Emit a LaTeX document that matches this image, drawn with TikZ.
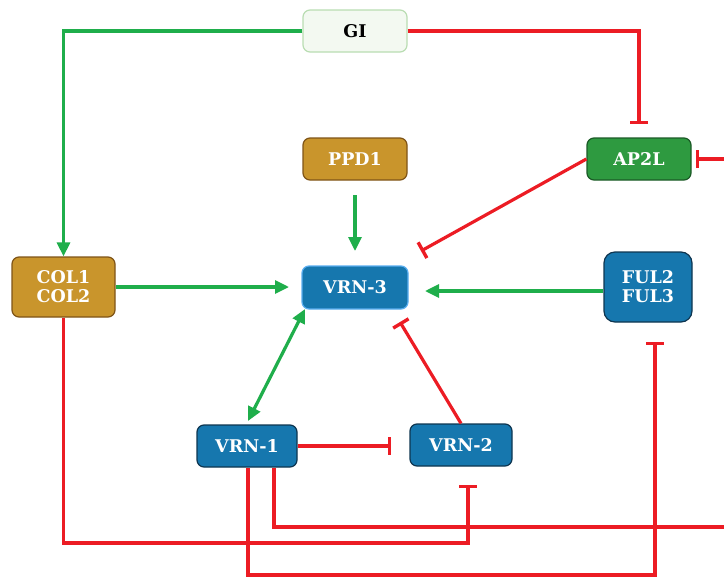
\documentclass[tikz,border=0pt]{standalone}
\usepackage{fontspec}
\setmainfont{DejaVu Serif}
\usetikzlibrary{arrows.meta}

\definecolor{actgreen}{HTML}{1FAE4B}
\definecolor{inhred}{HTML}{EC1C24}
\definecolor{goldfill}{HTML}{C9952C}
\definecolor{golddraw}{HTML}{7F5417}
\definecolor{bluefill}{HTML}{1677AE}
\definecolor{bluedraw}{HTML}{0E3550}
\definecolor{greenfill}{HTML}{2E9A40}
\definecolor{greendraw}{HTML}{1B5A26}
\definecolor{gifill}{HTML}{F3F9F1}
\definecolor{gidraw}{HTML}{B9DDB2}
\definecolor{selblue}{HTML}{5AAEF0}

\tikzset{
  genebox/.style={rounded corners=7pt, minimum width=104pt, minimum height=42pt,
    line width=1.2pt, align=center, text=white, inner sep=2pt,
    font=\bfseries\fontsize{17.5}{19}\selectfont},
  goldbox/.style={genebox, fill=goldfill, draw=golddraw},
  bluebox/.style={genebox, fill=bluefill, draw=bluedraw},
  greenbox/.style={genebox, fill=greenfill, draw=greendraw},
  act/.style={actgreen, line width=3.2pt, -{Triangle[length=14pt,width=13pt]}},
  actboth/.style={actgreen, line width=3.2pt, {Triangle[length=14pt,width=13pt]}-{Triangle[length=14pt,width=13pt]}},
  inh/.style={inhred, line width=3.2pt, -{Bar[width=18pt,line width=3.4pt]}},
  wire/.style={inhred, line width=3.2pt}
}

\begin{document}
\begin{tikzpicture}[x=1pt,y=-1pt]
    \useasboundingbox (0,0) rectangle (724,579);

    % genes
    \node[genebox, fill=gifill, draw=gidraw, text=black] (gi) at (355,31) {GI};
    \node[goldbox] (ppd) at (355,159) {PPD1};
    \node[greenbox] (ap2l) at (639,159) {AP2L};
    \node[goldbox, minimum width=103pt, minimum height=60pt] (col) at (63.5,287) {COL1\\COL2};
    \node[bluebox, draw=selblue, minimum width=106pt, minimum height=43pt] (vrn3) at (355,287.5) {VRN-3};
    \node[bluebox, minimum width=88pt, minimum height=70pt, rounded corners=11pt] (ful) at (648,287) {FUL2\\FUL3};
    \node[bluebox, minimum width=100pt] (vrn1) at (247,446) {VRN-1};
    \node[bluebox, minimum width=102pt] (vrn2) at (461,445) {VRN-2};

    % free ends of the connectors
    \coordinate (ap2ltop) at (639,124);
    \coordinate (ap2lright) at (724,159);
    \coordinate (ap2lbar) at (696,159);
    \coordinate (vrn3ne) at (421,251);
    \coordinate (ppdout) at (355,195);
    \coordinate (ppdin) at (355,251);
    \coordinate (colin) at (289,287);
    \coordinate (fulin) at (425,291);
    \coordinate (vrn3sw) at (305,309);
    \coordinate (vrn1nw) at (248,421);
    \coordinate (vrn3se) at (400,322);
    \coordinate (vrn2w) at (391,446);
    \coordinate (vrn2s) at (468,485);
    \coordinate (fuls) at (655,342);
    \coordinate (vrn1a) at (274,468);
    \coordinate (vrn1b) at (248,468);
    \coordinate (rightout) at (724,527);

    % activation
    \draw[act] (gi.west) -| (col.north);
    \draw[act] (ppdout) -- (ppdin);
    \draw[act] (col.east) -- (colin);
    \draw[act] (ful.west |- fulin) -- (fulin);
    \draw[actboth] (vrn1nw) -- (vrn3sw);

    % repression
    \draw[inh] (gi.east) -| (ap2ltop);
    \draw[inh] (ap2lright) -- (ap2lbar);
    \draw[inh] (ap2l.west) -- (vrn3ne);
    \draw[inh] (vrn2.north) -- (vrn3se);
    \draw[inh] (vrn1.east) -- (vrn2w);
    \draw[inh] (col.south) |- (468,543) -- (vrn2s);
    \draw[wire] (vrn1a) |- (rightout);
    \draw[inh] (vrn1b) |- (655,575) -- (fuls);
\end{tikzpicture}
\end{document}
